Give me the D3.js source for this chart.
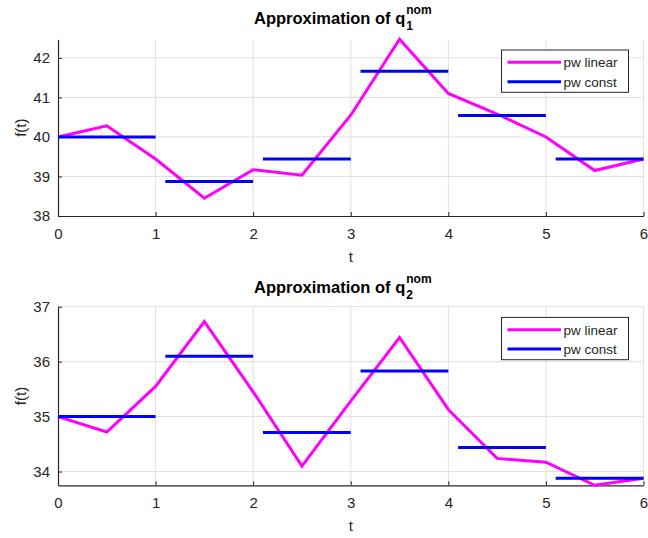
<!DOCTYPE html>
<html><head><meta charset="utf-8">
<script src="https://cdn.jsdelivr.net/npm/d3@7"></script>
<style>body{margin:0;background:#fff}svg{display:block}text{font-family:"Liberation Sans",Arial,sans-serif}</style>
</head><body><svg id="c" width="648" height="538"></svg>
<script>
// ---- data ----
const tLinear = [0,0.5,1,1.5,2,2.5,3,3.5,4,4.5,5,5.5,6];
const q1Linear = [40.0,40.28,39.44,38.45,39.17,39.03,40.55,42.47,41.1,40.58,40.0,39.15,39.44];
const q2Linear = [35.0,34.72,35.55,36.73,35.45,34.10,35.28,36.44,35.13,34.24,34.17,33.75,33.88];
const constStart = [0,1.1,2.1,3.1,4.1,5.1];
const constEnd = [1,2,3,4,5,6];
const q1Const = [40.0,38.87,39.44,41.66,40.54,39.44];
const q2Const = [35.0,36.10,34.71,35.83,34.44,33.88];
const xTicks = [0,1,2,3,4,5,6];
const q1YTicks = [38,39,40,41,42];
const q2YTicks = [34,35,36,37];
const q1YLim = [38,42.47];
const q2YLim = [33.75,37];
const legendLabels = ["pw linear","pw const"];
const subscripts = ["1","2"];

const svg = d3.select("#c");
const axisColor = "#262626";
const panels = [
  {lin:q1Linear, cst:q1Const, yt:q1YTicks, yl:q1YLim, top:39.3, bottom:216, sub:subscripts[0], titleY:24},
  {lin:q2Linear, cst:q2Const, yt:q2YTicks, yl:q2YLim, top:306.7, bottom:485.3, sub:subscripts[1], titleY:293}
];
const x = d3.scaleLinear().domain([0,6]).range([58,643.5]);

panels.forEach(p=>{
  const y = d3.scaleLinear().domain(p.yl).range([p.bottom,p.top]);
  const g = svg.append("g");
  // grid
  g.selectAll(".vg").data(xTicks.filter(d=>d>0)).join("line")
    .attr("x1",d=>x(d)).attr("x2",d=>x(d)).attr("y1",p.top).attr("y2",p.bottom)
    .attr("stroke","#dfdfdf").attr("stroke-width",1);
  g.selectAll(".hg").data(p.yt.filter(d=>d>p.yl[0])).join("line")
    .attr("x1",x(0)).attr("x2",x(6)).attr("y1",d=>y(d)).attr("y2",d=>y(d))
    .attr("stroke","#dfdfdf").attr("stroke-width",1);
  // axes
  const xa = g.append("g").attr("transform",`translate(0,${p.bottom})`)
    .call(d3.axisBottom(x).tickValues(xTicks).tickSizeInner(-4).tickSizeOuter(0).tickPadding(12).tickFormat(d3.format("d")));
  const ya = g.append("g").attr("transform",`translate(${x(0)},0)`)
    .call(d3.axisLeft(y).tickValues(p.yt).tickSizeInner(-4).tickSizeOuter(0).tickPadding(8).tickFormat(d3.format("d")));
  [xa,ya].forEach(a=>{
    a.select(".domain").attr("stroke",axisColor).attr("stroke-width",1.2);
    a.selectAll(".tick line").attr("stroke",axisColor);
    a.selectAll(".tick text").attr("fill",axisColor).attr("font-size",15);
  });
  // lines
  g.append("path").datum(tLinear.map((t,i)=>[t,p.lin[i]]))
    .attr("d",d3.line().x(d=>x(d[0])).y(d=>y(d[1])))
    .attr("fill","none").attr("stroke","#ff00ff").attr("stroke-width",3).attr("stroke-linejoin","miter");
  g.selectAll(".cs").data(p.cst).join("line")
    .attr("x1",(d,i)=>x(constStart[i])).attr("x2",(d,i)=>x(constEnd[i]))
    .attr("y1",d=>y(d)).attr("y2",d=>y(d))
    .attr("stroke","#0000ff").attr("stroke-width",3);
  // labels
  g.append("text").attr("x",x(3)).attr("y",p.bottom+46).attr("text-anchor","middle")
    .attr("fill",axisColor).attr("font-size",15).text("t");
  g.append("text").attr("transform",`translate(26,${(p.top+p.bottom)/2}) rotate(-90)`)
    .attr("text-anchor","middle").attr("fill",axisColor).attr("font-size",15).text("f(t)");
  // title
  const tt = g.append("text").attr("y",p.titleY).attr("font-size",16.5).attr("font-weight","bold").attr("fill","#000");
  tt.append("tspan").attr("x",254).text("Approximation of q");
  const tw = 254 + tt.node().getComputedTextLength();
  g.append("text").attr("x",tw+1).attr("y",p.titleY-10).attr("font-size",12).attr("font-weight","bold").text("nom");
  g.append("text").attr("x",tw+1).attr("y",p.titleY+6).attr("font-size",12).attr("font-weight","bold").text(p.sub);
  // legend
  const lx=501.5, ly=p.top+10.7;
  const lg = g.append("g");
  lg.append("rect").attr("x",lx).attr("y",ly).attr("width",127).attr("height",42.3)
    .attr("fill","#fff").attr("stroke",axisColor).attr("stroke-width",1);
  legendLabels.forEach((lab,i)=>{
    const yy = ly + 12.3 + i*19.4;
    lg.append("line").attr("x1",lx+6).attr("x2",lx+59.5).attr("y1",yy).attr("y2",yy)
      .attr("stroke",i===0?"#ff00ff":"#0000ff").attr("stroke-width",3);
    lg.append("text").attr("x",lx+62).attr("y",yy+5).attr("font-size",13.5).attr("fill",axisColor).text(lab);
  });
});
</script></body></html>
